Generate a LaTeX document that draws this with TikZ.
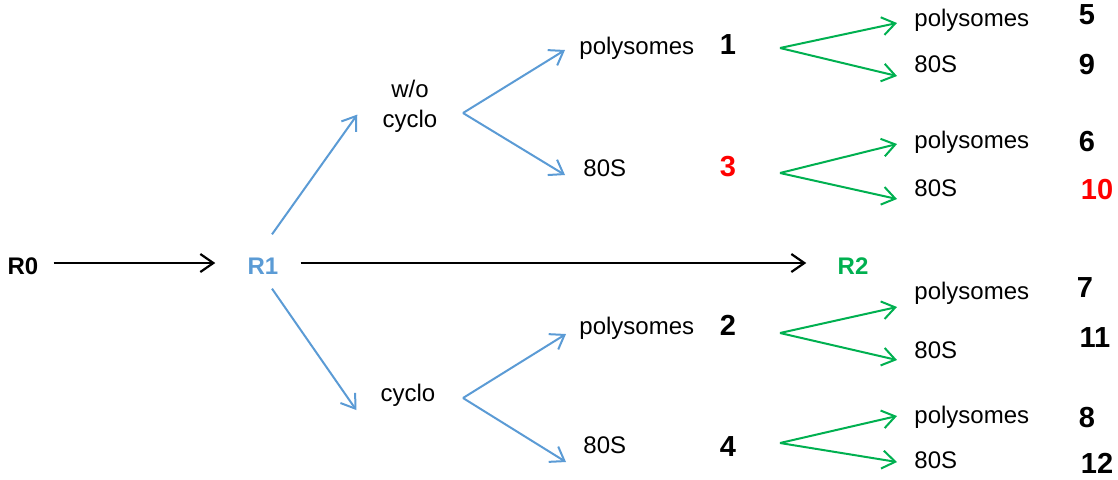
\documentclass[tikz,border=0pt]{standalone}
\usepackage{fontspec}
\setmainfont{Liberation Sans}
\usetikzlibrary{arrows.meta}
\definecolor{runblue}{RGB}{91,155,213}
\definecolor{rungreen}{RGB}{0,176,80}
\definecolor{runred}{RGB}{255,0,0}

\begin{document}
\begin{tikzpicture}[x=0.5pt,y=-0.5pt,
  lbl/.style={font=\fontsize{12}{15}\selectfont,inner sep=0pt},
  rnd/.style={font=\fontsize{12}{14}\selectfont\bfseries,inner sep=0pt},
  num/.style={font=\fontsize{14.5}{16}\selectfont\bfseries,inner sep=0pt},
  karr/.style={line width=1.1pt,-{Straight Barb[length=6.5pt,width=9pt]}},
  barr/.style={karr,runblue,line width=1pt},
  garr/.style={karr,rungreen,line width=1pt}]
  \useasboundingbox (0,0) rectangle (1118,479);
  % rounds
  \node[rnd] (R0) at (23,266) {R0};
  \node[rnd,text=runblue] (R1) at (263,266) {R1};
  \node[rnd,text=rungreen] (R2) at (853,266) {R2};
  \draw[karr] ([shift={(15,-3)}]R0.east) -- ([shift={(-32,-3)}]R1.west);
  \draw[karr] ([shift={(22,-3)}]R1.east) -- ([shift={(-31,-3)}]R2.west);
  % treatment
  \node[lbl,align=center] (wo) at (410,106) {w/o\\cyclo};
  \node[lbl] (cy) at (408,395) {cyclo};
  \draw[barr] ([shift={(9,-23)}]R1.north) -- ([shift={(-25,-18)}]wo.south west);
  \draw[barr] ([shift={(9,14)}]R1.south) -- ([shift={(-24,15)}]cy.west);
  % fractions
  \coordinate (fa) at (463,113);
  \coordinate (fb) at (463,398);
  \node[lbl,anchor=west] (pa) at (579,48) {polysomes};
  \node[lbl,anchor=west] (sa) at (583,168) {80S};
  \node[lbl,anchor=west] (pb) at (579,328) {polysomes};
  \node[lbl,anchor=west] (sb) at (583,445) {80S};
  \draw[barr] (fa) -- ([shift={(-14,2)}]pa.west);
  \draw[barr] (fa) -- ([shift={(-18,7)}]sa.west);
  \draw[barr] (fb) -- ([shift={(-13,6)}]pb.west);
  \draw[barr] (fb) -- ([shift={(-17,17)}]sb.west);
  \node[num] (n1) at (728,45) {1};
  \node[num,text=runred] (n3) at (728,167) {3};
  \node[num] (n2) at (728,325) {2};
  \node[num] (n4) at (728,447) {4};
  % second round fractions
  \coordinate (g1) at (780,48);
  \coordinate (g2) at (780,173);
  \coordinate (g3) at (780,333);
  \coordinate (g4) at (780,443);
  \node[lbl,anchor=west] (p5) at (914,20) {polysomes};
  \node[lbl,anchor=west] (s9) at (914,64) {80S};
  \node[lbl,anchor=west] (p6) at (914,142) {polysomes};
  \node[lbl,anchor=west] (s10) at (914,188) {80S};
  \node[lbl,anchor=west] (p7) at (914,293) {polysomes};
  \node[lbl,anchor=west] (s11) at (914,350) {80S};
  \node[lbl,anchor=west] (p8) at (914,417) {polysomes};
  \node[lbl,anchor=west] (s12) at (914,460) {80S};
  \draw[garr] (g1) -- ([shift={(-17,3)}]p5.west);
  \draw[garr] (g1) -- ([shift={(-17,12)}]s9.west);
  \draw[garr] (g2) -- ([shift={(-17,2)}]p6.west);
  \draw[garr] (g2) -- ([shift={(-17,11)}]s10.west);
  \draw[garr] (g3) -- ([shift={(-17,14)}]p7.west);
  \draw[garr] (g3) -- ([shift={(-17,10)}]s11.west);
  \draw[garr] (g4) -- ([shift={(-17,-1)}]p8.west);
  \draw[garr] (g4) -- ([shift={(-17,2)}]s12.west);
  \node[num] (n5) at (1087,15) {5};
  \node[num] (n9) at (1087,65) {9};
  \node[num] (n6) at (1087,142) {6};
  \node[num,text=runred] (n10) at (1097,190) {10};
  \node[num] (n7) at (1085,288) {7};
  \node[num] (n11) at (1095,338) {11};
  \node[num] (n8) at (1087,417) {8};
  \node[num] (n12) at (1097,463) {12};
\end{tikzpicture}
\end{document}
